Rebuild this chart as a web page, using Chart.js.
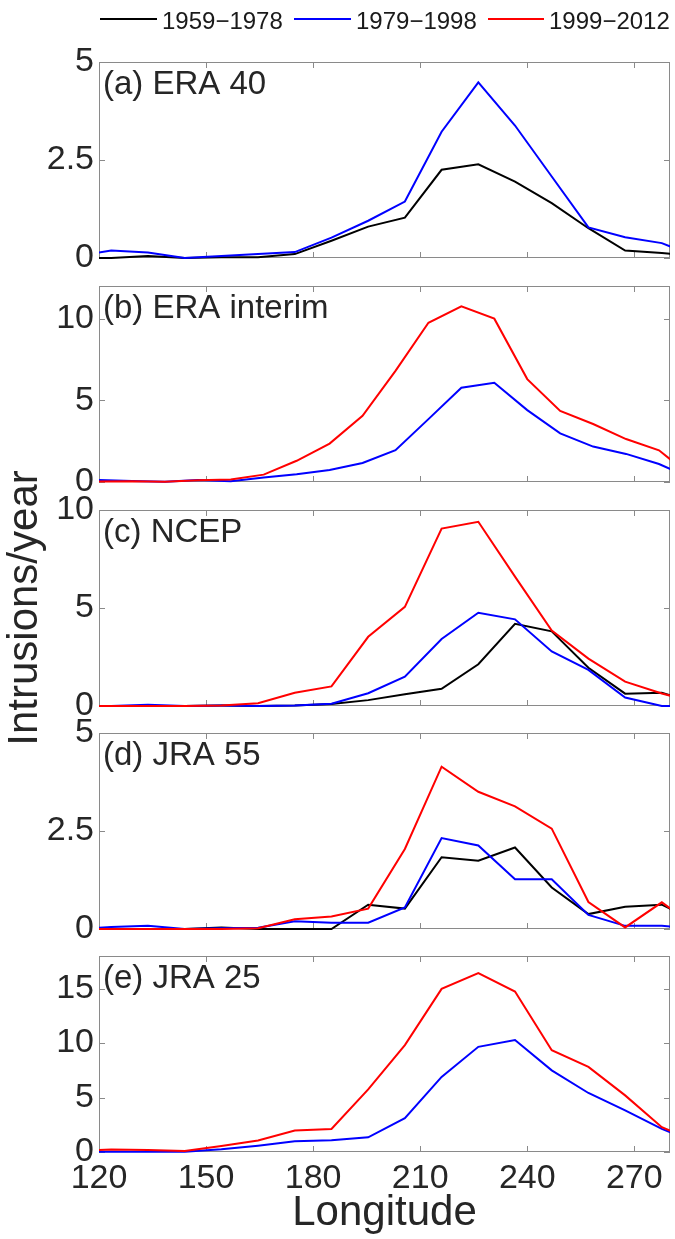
<!DOCTYPE html>
<html>
<head>
<meta charset="utf-8">
<script src="https://cdn.jsdelivr.net/npm/chart.js@4.4.1/dist/chart.umd.min.js"></script>
<style>
  html, body { margin: 0; padding: 0; background: #ffffff; }
  #wrap { position: relative; width: 675px; height: 1239px; overflow: hidden; background: #ffffff; }
  #wrap canvas { position: absolute; left: 0; top: 0; }
  .lgText { position: absolute; top: 9px; font-family: 'Liberation Sans', Arial, sans-serif; font-size: 24px; line-height: 24px; color: #1a1a1a; white-space: nowrap; }
  .lgLine { position: absolute; top: 18px; height: 2px; }
</style>
</head>
<body>
<div id="wrap">
  <canvas id="p0" width="675" height="1239"></canvas>
  <canvas id="p1" width="675" height="1239"></canvas>
  <canvas id="p2" width="675" height="1239"></canvas>
  <canvas id="p3" width="675" height="1239"></canvas>
  <canvas id="p4" width="675" height="1239"></canvas>
  <div id="legend"></div>
</div>
<script>
// ---------------- data ----------------
// longitude grid (360/35 deg bins) used by ERA 40, NCEP, JRA 55, JRA 25
const lonGrid = [113.14, 123.43, 133.71, 144.00, 154.29, 164.57, 174.86, 185.14, 195.43,
                 205.71, 216.00, 226.29, 236.57, 246.86, 257.14, 267.43, 277.71, 288.00];
// longitude grid (360/39 deg bins) used by ERA interim
const lonGridInterim = [120.00, 129.23, 138.46, 147.69, 156.92, 166.15, 175.38, 184.62, 193.85, 203.08,
                        212.31, 221.54, 230.77, 240.00, 249.23, 258.46, 267.69, 276.92, 286.15];

const periods = ['1959\u22121978', '1979\u22121998', '1999\u22122012'];
const panelNames = ['(a) ERA 40', '(b) ERA interim', '(c) NCEP', '(d) JRA 55', '(e) JRA 25'];
const xTickValues = [120, 150, 180, 210, 240, 270];
const xRange = [120, 280];
const yTicksERA40 = [0, 2.5, 5];
const yTicksInterim = [0, 5, 10];
const yTicksNCEP = [0, 5, 10];
const yTicksJRA55 = [0, 2.5, 5];
const yTicksJRA25 = [0, 5, 10, 15];
const yMaxValues = [5, 12, 10, 5, 18];
const yAxisTitle = 'Intrusions/year';
const xAxisTitle = 'Longitude';

// (a) ERA 40
const era40_1959_1978 = [0, 0, 0.05, 0, 0.02, 0.02, 0.10, 0.44, 0.80, 1.03, 2.25, 2.39, 1.95, 1.40, 0.76, 0.19, 0.13, 0.04];
const era40_1979_1998 = [0.04, 0.19, 0.14, 0, 0.05, 0.10, 0.15, 0.52, 0.95, 1.44, 3.22, 4.48, 3.38, 2.08, 0.78, 0.53, 0.38, 0];
// (b) ERA interim
const erai_1979_1998 = [0.12, 0.06, 0.02, 0.12, 0.04, 0.28, 0.48, 0.74, 1.16, 1.95, 3.85, 5.77, 6.08, 4.40, 2.98, 2.17, 1.72, 1.10, 0.20];
const erai_1999_2012 = [0.03, 0.05, 0.02, 0.10, 0.16, 0.45, 1.30, 2.35, 4.05, 6.80, 9.75, 10.75, 10.00, 6.30, 4.35, 3.55, 2.63, 1.94, 0.32];
// (c) NCEP
const ncep_1959_1978 = [0, 0, 0, 0, 0.02, 0, 0.02, 0.10, 0.30, 0.60, 0.88, 2.13, 4.19, 3.81, 1.95, 0.63, 0.67, 0.13];
const ncep_1979_1998 = [0, 0, 0.07, 0, 0.02, 0, 0.03, 0.12, 0.65, 1.50, 3.42, 4.76, 4.42, 2.78, 1.84, 0.43, 0, 0];
const ncep_1999_2012 = [0, 0, 0, 0, 0.03, 0.14, 0.68, 1.00, 3.53, 5.06, 9.05, 9.40, 6.60, 3.85, 2.42, 1.24, 0.64, 0.14];
// (d) JRA 55
const jra55_1959_1978 = [0, 0, 0, 0, 0.04, 0, 0, 0, 0.62, 0.52, 1.83, 1.74, 2.08, 1.06, 0.38, 0.57, 0.62, 0.17];
const jra55_1979_1998 = [0, 0.05, 0.08, 0, 0.02, 0.03, 0.20, 0.16, 0.16, 0.55, 2.32, 2.13, 1.27, 1.27, 0.36, 0.08, 0.08, 0];
const jra55_1999_2012 = [0, 0, 0, 0, 0, 0.02, 0.25, 0.32, 0.52, 2.04, 4.14, 3.50, 3.13, 2.56, 0.69, 0.04, 0.68, 0];
// (e) JRA 25
const jra25_1979_1998 = [0.03, 0.03, 0.03, 0.03, 0.25, 0.58, 0.98, 1.08, 1.35, 3.10, 6.90, 9.66, 10.28, 7.50, 5.42, 3.82, 2.12, 0.77];
const jra25_1999_2012 = [0.10, 0.22, 0.18, 0.10, 0.55, 1.05, 1.97, 2.12, 5.75, 9.82, 14.98, 16.43, 14.74, 9.35, 7.82, 5.20, 2.28, 0.88];

// ---------------- styling / layout ----------------
const FONT = "'Liberation Sans', Arial, Helvetica, sans-serif";
const seriesColors = ['#000000', '#0000ff', '#ff0000'];
const textColor = '#262626';
const boxColor = '#8a8a8a';
const PAGE_H = 1239;
const AREA_LEFT = 99;
const AREA_RIGHT_PAD = 5;
const panelTops = [62, 286, 510, 733, 956];
const panelHeight = 196;

Chart.defaults.font.family = FONT;

const panels = [
  { name: panelNames[0], lon: lonGrid, series: [era40_1959_1978, era40_1979_1998, null], yMax: yMaxValues[0], yTicks: yTicksERA40 },
  { name: panelNames[1], lon: lonGridInterim, series: [null, erai_1979_1998, erai_1999_2012], yMax: yMaxValues[1], yTicks: yTicksInterim },
  { name: panelNames[2], lon: lonGrid, series: [ncep_1959_1978, ncep_1979_1998, ncep_1999_2012], yMax: yMaxValues[2], yTicks: yTicksNCEP, yTitle: true },
  { name: panelNames[3], lon: lonGrid, series: [jra55_1959_1978, jra55_1979_1998, jra55_1999_2012], yMax: yMaxValues[3], yTicks: yTicksJRA55 },
  { name: panelNames[4], lon: lonGrid, series: [null, jra25_1979_1998, jra25_1999_2012], yMax: yMaxValues[4], yTicks: yTicksJRA25, xLabels: true }
];

// frame plugin: box, inward tick marks and panel label
const framePlugin = {
  id: 'frame',
  beforeDatasetsDraw(chart, args, opts) {
    const { ctx, chartArea: a, scales } = chart;
    const x = scales.x, y = scales.y;
    ctx.save();
    ctx.strokeStyle = boxColor;
    ctx.lineWidth = 1;
    ctx.strokeRect(a.left + 0.5, a.top + 0.5, a.right - a.left - 1, a.bottom - a.top - 1);
    const tl = 6;
    ctx.beginPath();
    xTickValues.forEach(v => {
      const px = Math.round(x.getPixelForValue(v)) + 0.5;
      ctx.moveTo(px, a.top); ctx.lineTo(px, a.top + tl);
      ctx.moveTo(px, a.bottom); ctx.lineTo(px, a.bottom - tl);
    });
    y.ticks.forEach(t => {
      const py = Math.round(y.getPixelForValue(t.value)) + 0.5;
      ctx.moveTo(a.left, py); ctx.lineTo(a.left + tl, py);
      ctx.moveTo(a.right, py); ctx.lineTo(a.right - tl, py);
    });
    ctx.stroke();
    ctx.fillStyle = textColor;
    ctx.font = '33px ' + FONT;
    ctx.textBaseline = 'alphabetic';
    ctx.textAlign = 'left';
    ctx.fillText(opts.label, a.left + 4, a.top + 32);
    ctx.restore();
  }
};

panels.forEach((p, i) => {
  const top = panelTops[i];
  const bottom = top + panelHeight;
  const datasets = [];
  p.series.forEach((s, k) => {
    if (!s) return;
    datasets.push({
      label: periods[k],
      data: p.lon.map((lon, j) => ({ x: lon, y: s[j] })),
      borderColor: seriesColors[k],
      backgroundColor: seriesColors[k],
      borderWidth: 2,
      pointRadius: 0,
      tension: 0,
      fill: false,
      order: 2 - k,
      clip: { left: 0, right: 0, top: 6, bottom: 6 }
    });
  });

  const xScale = {
    type: 'linear',
    min: xRange[0],
    max: xRange[1],
    display: !!p.xLabels,
    afterBuildTicks: s => { s.ticks = xTickValues.map(v => ({ value: v })); },
    grid: { display: false, drawTicks: false },
    border: { display: false },
    ticks: { font: { size: 34, family: FONT }, color: textColor, padding: 6, maxRotation: 0, autoSkip: false }
  };
  if (p.xLabels) {
    xScale.title = { display: true, text: xAxisTitle, font: { size: 42, family: FONT }, color: textColor, padding: 0 };
    xScale.afterFit = s => { s.height = PAGE_H - bottom; };
  }

  const yScale = {
    type: 'linear',
    min: 0,
    max: p.yMax,
    afterBuildTicks: s => { s.ticks = p.yTicks.map(v => ({ value: v })); },
    afterFit: s => { s.width = AREA_LEFT; },
    grid: { display: false, drawTicks: false },
    border: { display: false },
    ticks: { font: { size: 34, family: FONT }, color: textColor, padding: 5, autoSkip: false }
  };
  if (p.yTitle) {
    yScale.title = { display: true, text: yAxisTitle, font: { size: 42, family: FONT }, color: textColor, padding: 0 };
  }

  new Chart(document.getElementById('p' + i), {
    type: 'line',
    data: { datasets },
    options: {
      responsive: false,
      animation: false,
      events: [],
      layout: { padding: { top: top, bottom: p.xLabels ? 0 : PAGE_H - bottom, left: 0, right: AREA_RIGHT_PAD } },
      scales: { x: xScale, y: yScale },
      plugins: { legend: { display: false }, tooltip: { enabled: false }, frame: { label: p.name } }
    },
    plugins: [framePlugin]
  });
});

// legend row at the top
const legendLayout = [
  { line: [100, 57], text: 162 },
  { line: [294, 57], text: 356 },
  { line: [488, 56], text: 549 }
];
const lg = document.getElementById('legend');
periods.forEach((label, k) => {
  const L = legendLayout[k];
  const ln = document.createElement('div');
  ln.className = 'lgLine';
  ln.style.left = L.line[0] + 'px';
  ln.style.width = L.line[1] + 'px';
  ln.style.background = seriesColors[k];
  lg.appendChild(ln);
  const tx = document.createElement('div');
  tx.className = 'lgText';
  tx.style.left = L.text + 'px';
  tx.textContent = label;
  lg.appendChild(tx);
});
</script>
</body>
</html>
